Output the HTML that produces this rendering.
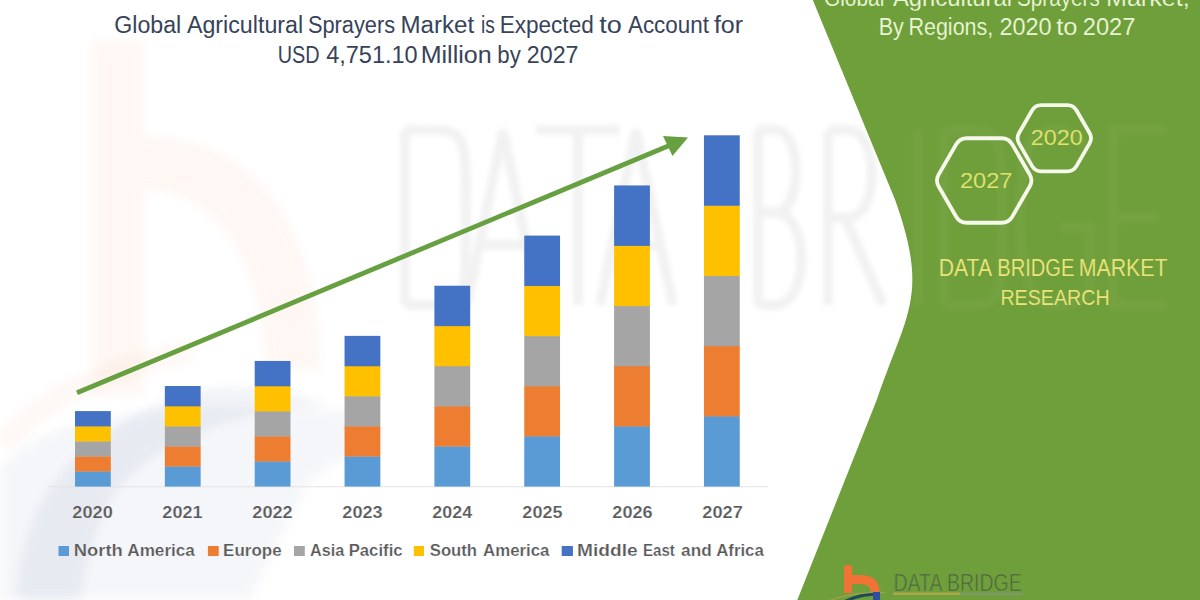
<!DOCTYPE html>
<html><head><meta charset="utf-8">
<style>
html,body{margin:0;padding:0;background:#fff;}
body{width:1200px;height:600px;overflow:hidden;}
svg{display:block;font-family:"Liberation Sans",sans-serif;}
</style></head>
<body>
<svg width="1200" height="600" viewBox="0 0 1200 600">
<defs>
<filter id="bl" x="-10%" y="-10%" width="120%" height="120%"><feGaussianBlur stdDeviation="2.5"/></filter>
<filter id="bl2" x="-20%" y="-20%" width="140%" height="140%"><feGaussianBlur stdDeviation="5"/></filter>
<clipPath id="gc"><path d="M812.8 0 L895.2 200 C929.2 296.3 907.2 311.1 876.7 400 L797.3 600 L1200 600 L1200 0 Z"/></clipPath>
</defs>
<rect width="1200" height="600" fill="#ffffff"/>
<g opacity="0.05" filter="url(#bl2)">
<path d="M93 41 H144 V136 C250 136 320 220 320 370 H265 C265 265 220 190 144 190 V395 H93 Z" fill="#f07335"/>
</g>
<path d="M0 600 L0 470 C40 420 120 400 330 410 C420 415 330 470 310 480 L250 600 Z" fill="#5a6a9a" opacity="0.05" filter="url(#bl2)"/>
<path d="M17 600 C20 520 50 450 175 396 C230 380 280 390 330 405 C240 410 150 440 110 500 C95 530 85 570 80 600 Z" fill="#506aa0" opacity="0.08" filter="url(#bl2)"/>
<path d="M4 445 C30 410 90 370 190 352" fill="none" stroke="#f08050" stroke-width="22" opacity="0.05" filter="url(#bl2)"/>
<path d="M405 130 V305 M405 130 H425 C466 130 466 130 466 217.5 C466 305 466 305 425 305 H405 M467 305 L503 130 L539 305 M480 245 H526 M536 130 H620 M578 130 V305 M600 305 L636 130 L673 305 M613 245 H660 M758 130 V305 M758 130 H775 C803 130 803 212.5 775 212.5 H758 M775 212.5 C810 212.5 810 305 775 305 H758 M828 130 V305 M828 130 H848 C880 130 880 217.5 848 217.5 H828 M845 217.5 L883 305 M918 130 V305 M944 130 V305 M944 130 H962 C1002 130 1002 130 1002 217.5 C1002 305 1002 305 962 305 H944 M1088 150 C1075 130 1060 130 1052 130 C1025 130 1020 170 1020 217.5 C1020 275 1030 305 1055 305 C1075 305 1090 295 1090 290 V227.5 H1060 M1166 130 H1113 V305 H1166 M1113 217.5 H1158" fill="none" stroke="#000" stroke-width="10" opacity="0.05" filter="url(#bl)"/>
<path d="M812.8 0 L895.2 200 C929.2 296.3 907.2 311.1 876.7 400 L797.3 600 L1200 600 L1200 0 Z" fill="#6f9f3a"/>
<g clip-path="url(#gc)"><path d="M405 130 V305 M405 130 H425 C466 130 466 130 466 217.5 C466 305 466 305 425 305 H405 M467 305 L503 130 L539 305 M480 245 H526 M536 130 H620 M578 130 V305 M600 305 L636 130 L673 305 M613 245 H660 M758 130 V305 M758 130 H775 C803 130 803 212.5 775 212.5 H758 M775 212.5 C810 212.5 810 305 775 305 H758 M828 130 V305 M828 130 H848 C880 130 880 217.5 848 217.5 H828 M845 217.5 L883 305 M918 130 V305 M944 130 V305 M944 130 H962 C1002 130 1002 130 1002 217.5 C1002 305 1002 305 962 305 H944 M1088 150 C1075 130 1060 130 1052 130 C1025 130 1020 170 1020 217.5 C1020 275 1030 305 1055 305 C1075 305 1090 295 1090 290 V227.5 H1060 M1166 130 H1113 V305 H1166 M1113 217.5 H1158" fill="none" stroke="#fff" stroke-width="9" opacity="0.04" filter="url(#bl)"/></g>
<g fill="#37435a"><text x="114.34" y="32.5" font-size="23" textLength="66.91" lengthAdjust="spacingAndGlyphs">Global</text><text x="186.95" y="32.5" font-size="23" textLength="116.20" lengthAdjust="spacingAndGlyphs">Agricultural</text><text x="307.91" y="32.5" font-size="23" textLength="87.18" lengthAdjust="spacingAndGlyphs">Sprayers</text><text x="400.52" y="32.5" font-size="23" textLength="73.65" lengthAdjust="spacingAndGlyphs">Market</text><text x="481.01" y="32.5" font-size="23" textLength="13.88" lengthAdjust="spacingAndGlyphs">is</text><text x="499.65" y="32.5" font-size="23" textLength="94.11" lengthAdjust="spacingAndGlyphs">Expected</text><text x="599.29" y="32.5" font-size="23" textLength="22.54" lengthAdjust="spacingAndGlyphs">to</text><text x="627.96" y="32.5" font-size="23" textLength="80.96" lengthAdjust="spacingAndGlyphs">Account</text><text x="713.90" y="32.5" font-size="23" textLength="29.22" lengthAdjust="spacingAndGlyphs">for</text><text x="277.77" y="62.5" font-size="23" textLength="41.88" lengthAdjust="spacingAndGlyphs">USD</text><text x="326.16" y="62.5" font-size="23" textLength="91.46" lengthAdjust="spacingAndGlyphs">4,751.10</text><text x="420.65" y="62.5" font-size="23" textLength="70.98" lengthAdjust="spacingAndGlyphs">Million</text><text x="497.27" y="62.5" font-size="23" textLength="23.48" lengthAdjust="spacingAndGlyphs">by</text><text x="526.83" y="62.5" font-size="23" textLength="51.63" lengthAdjust="spacingAndGlyphs">2027</text></g>
<line x1="48" y1="486.75" x2="768" y2="486.75" stroke="#e3e3e3" stroke-width="1"/>
<g><rect x="75.00" y="471.26" width="35.8" height="15.34" fill="#5b9bd5"/><rect x="75.00" y="456.21" width="35.8" height="15.34" fill="#ed7d31"/><rect x="75.00" y="441.17" width="35.8" height="15.34" fill="#a5a5a5"/><rect x="75.00" y="426.13" width="35.8" height="15.34" fill="#ffc000"/><rect x="75.00" y="411.09" width="35.8" height="15.34" fill="#4472c4"/><rect x="164.85" y="466.24" width="35.8" height="20.36" fill="#5b9bd5"/><rect x="164.85" y="446.19" width="35.8" height="20.36" fill="#ed7d31"/><rect x="164.85" y="426.13" width="35.8" height="20.36" fill="#a5a5a5"/><rect x="164.85" y="406.07" width="35.8" height="20.36" fill="#ffc000"/><rect x="164.85" y="386.01" width="35.8" height="20.36" fill="#4472c4"/><rect x="254.70" y="461.23" width="35.8" height="25.37" fill="#5b9bd5"/><rect x="254.70" y="436.16" width="35.8" height="25.37" fill="#ed7d31"/><rect x="254.70" y="411.09" width="35.8" height="25.37" fill="#a5a5a5"/><rect x="254.70" y="386.01" width="35.8" height="25.37" fill="#ffc000"/><rect x="254.70" y="360.94" width="35.8" height="25.37" fill="#4472c4"/><rect x="344.55" y="456.21" width="35.8" height="30.39" fill="#5b9bd5"/><rect x="344.55" y="426.13" width="35.8" height="30.39" fill="#ed7d31"/><rect x="344.55" y="396.04" width="35.8" height="30.39" fill="#a5a5a5"/><rect x="344.55" y="365.96" width="35.8" height="30.39" fill="#ffc000"/><rect x="344.55" y="335.87" width="35.8" height="30.39" fill="#4472c4"/><rect x="434.40" y="446.19" width="35.8" height="40.41" fill="#5b9bd5"/><rect x="434.40" y="406.07" width="35.8" height="40.41" fill="#ed7d31"/><rect x="434.40" y="365.96" width="35.8" height="40.41" fill="#a5a5a5"/><rect x="434.40" y="325.84" width="35.8" height="40.41" fill="#ffc000"/><rect x="434.40" y="285.73" width="35.8" height="40.41" fill="#4472c4"/><rect x="524.25" y="436.16" width="35.8" height="50.44" fill="#5b9bd5"/><rect x="524.25" y="386.01" width="35.8" height="50.44" fill="#ed7d31"/><rect x="524.25" y="335.87" width="35.8" height="50.44" fill="#a5a5a5"/><rect x="524.25" y="285.73" width="35.8" height="50.44" fill="#ffc000"/><rect x="524.25" y="235.59" width="35.8" height="50.44" fill="#4472c4"/><rect x="614.10" y="426.13" width="35.8" height="60.47" fill="#5b9bd5"/><rect x="614.10" y="365.96" width="35.8" height="60.47" fill="#ed7d31"/><rect x="614.10" y="305.79" width="35.8" height="60.47" fill="#a5a5a5"/><rect x="614.10" y="245.61" width="35.8" height="60.47" fill="#ffc000"/><rect x="614.10" y="185.44" width="35.8" height="60.47" fill="#4472c4"/><rect x="703.95" y="416.10" width="35.8" height="70.50" fill="#5b9bd5"/><rect x="703.95" y="345.90" width="35.8" height="70.50" fill="#ed7d31"/><rect x="703.95" y="275.70" width="35.8" height="70.50" fill="#a5a5a5"/><rect x="703.95" y="205.50" width="35.8" height="70.50" fill="#ffc000"/><rect x="703.95" y="135.30" width="35.8" height="70.50" fill="#4472c4"/></g>
<line x1="77" y1="392.8" x2="670" y2="145.2" stroke="#66a040" stroke-width="4.8"/>
<polygon points="688,137.5 663,136 672.5,156" fill="#66a040"/>
<g fill="#595959" stroke="#f7f8fa" stroke-width="0.22"><text x="72.37" y="518.4" font-size="16.8" font-weight="bold" textLength="40.37" lengthAdjust="spacingAndGlyphs">2020</text><text x="162.37" y="518.4" font-size="16.8" font-weight="bold" textLength="40.13" lengthAdjust="spacingAndGlyphs">2021</text><text x="252.37" y="518.4" font-size="16.8" font-weight="bold" textLength="40.36" lengthAdjust="spacingAndGlyphs">2022</text><text x="342.37" y="518.4" font-size="16.8" font-weight="bold" textLength="40.28" lengthAdjust="spacingAndGlyphs">2023</text><text x="432.38" y="518.4" font-size="16.8" font-weight="bold" textLength="39.71" lengthAdjust="spacingAndGlyphs">2024</text><text x="522.37" y="518.4" font-size="16.8" font-weight="bold" textLength="40.13" lengthAdjust="spacingAndGlyphs">2025</text><text x="612.37" y="518.4" font-size="16.8" font-weight="bold" textLength="40.28" lengthAdjust="spacingAndGlyphs">2026</text><text x="702.37" y="518.4" font-size="16.8" font-weight="bold" textLength="40.43" lengthAdjust="spacingAndGlyphs">2027</text></g>
<rect x="58.5" y="546" width="10.5" height="10" fill="#5b9bd5"/>
<rect x="207.9" y="546" width="10.8" height="10" fill="#ed7d31"/>
<rect x="294" y="546" width="10.8" height="10" fill="#a5a5a5"/>
<rect x="413.8" y="546" width="10.2" height="10" fill="#ffc000"/>
<rect x="561.7" y="546" width="11.2" height="10" fill="#4472c4"/>
<g fill="#595959" stroke="#f7f8fa" stroke-width="0.22"><text x="73.77" y="556" font-size="17" font-weight="bold" textLength="49.07" lengthAdjust="spacingAndGlyphs">North</text><text x="127.27" y="556" font-size="17" font-weight="bold" textLength="67.62" lengthAdjust="spacingAndGlyphs">America</text><text x="223.11" y="556" font-size="17" font-weight="bold" textLength="58.47" lengthAdjust="spacingAndGlyphs">Europe</text><text x="310.00" y="556" font-size="17" font-weight="bold" textLength="34.20" lengthAdjust="spacingAndGlyphs">Asia</text><text x="348.68" y="556" font-size="17" font-weight="bold" textLength="53.91" lengthAdjust="spacingAndGlyphs">Pacific</text><text x="429.77" y="556" font-size="17" font-weight="bold" textLength="47.27" lengthAdjust="spacingAndGlyphs">South</text><text x="483.08" y="556" font-size="17" font-weight="bold" textLength="66.31" lengthAdjust="spacingAndGlyphs">America</text><text x="577.12" y="556" font-size="17" font-weight="bold" textLength="60.53" lengthAdjust="spacingAndGlyphs">Middle</text><text x="642.99" y="556" font-size="17" font-weight="bold" textLength="31.79" lengthAdjust="spacingAndGlyphs">East</text><text x="681.10" y="556" font-size="17" font-weight="bold" textLength="30.54" lengthAdjust="spacingAndGlyphs">and</text><text x="716.18" y="556" font-size="17" font-weight="bold" textLength="47.61" lengthAdjust="spacingAndGlyphs">Africa</text></g>
<g fill="#ebf6d6" stroke="#6f9f3a" stroke-width="0.12"><text x="823.95" y="5.8" font-size="23" textLength="60.45" lengthAdjust="spacingAndGlyphs">Global</text><text x="892.95" y="5.8" font-size="23" textLength="119.14" lengthAdjust="spacingAndGlyphs">Agricultural</text><text x="1017.06" y="5.8" font-size="23" textLength="82.68" lengthAdjust="spacingAndGlyphs">Sprayers</text><text x="1105.94" y="5.8" font-size="23" textLength="83.82" lengthAdjust="spacingAndGlyphs">Market,</text><text x="878.74" y="34.8" font-size="23.5" textLength="25.11" lengthAdjust="spacingAndGlyphs">By</text><text x="908.49" y="34.8" font-size="23.5" textLength="84.74" lengthAdjust="spacingAndGlyphs">Regions,</text><text x="999.42" y="34.8" font-size="23.5" textLength="52.25" lengthAdjust="spacingAndGlyphs">2020</text><text x="1056.21" y="34.8" font-size="23.5" textLength="21.26" lengthAdjust="spacingAndGlyphs">to</text><text x="1082.81" y="34.8" font-size="23.5" textLength="52.58" lengthAdjust="spacingAndGlyphs">2027</text></g>
<g fill="none" stroke="#f5f8ea" stroke-width="3.8"><path d="M1019.05 143.40 Q1016.05 138.20 1019.05 133.00 L1032.17 110.30 Q1035.17 105.10 1041.17 105.10 L1067.42 105.10 Q1073.42 105.10 1076.43 110.30 L1089.55 133.00 Q1092.55 138.20 1089.55 143.40 L1076.43 166.10 Q1073.42 171.30 1067.42 171.30 L1041.17 171.30 Q1035.17 171.30 1032.17 166.10 Z"/><path d="M938.71 186.56 Q935.20 180.50 938.71 174.44 L956.19 144.31 Q959.70 138.25 966.70 138.25 L1001.70 138.25 Q1008.70 138.25 1012.21 144.31 L1029.69 174.44 Q1033.20 180.50 1029.69 186.56 L1012.21 216.69 Q1008.70 222.75 1001.70 222.75 L966.70 222.75 Q959.70 222.75 956.19 216.69 Z"/></g>
<g fill="#e2e46e" stroke="#6f9f3a" stroke-width="0.12"><text x="1030.83" y="144.5" font-size="21.8" textLength="51.88" lengthAdjust="spacingAndGlyphs">2020</text><text x="959.91" y="188" font-size="22.2" textLength="52.52" lengthAdjust="spacingAndGlyphs">2027</text></g>
<g fill="#ece47a" stroke="#6f9f3a" stroke-width="0.12"><text x="938.86" y="275.5" font-size="23" textLength="53.17" lengthAdjust="spacingAndGlyphs">DATA</text><text x="997.35" y="275.5" font-size="23" textLength="77.01" lengthAdjust="spacingAndGlyphs">BRIDGE</text><text x="1078.75" y="275.5" font-size="23" textLength="88.74" lengthAdjust="spacingAndGlyphs">MARKET</text><text x="1000.39" y="305.2" font-size="21.8" textLength="109.22" lengthAdjust="spacingAndGlyphs">RESEARCH</text></g>
<g>
<path d="M844 593 V567 Q844 565 846 565 H850 Q852 565 852 567 V575 H860 Q879.5 575 879.5 592.5 H871 Q871 584 860 584 H852 V593 Z" fill="#f07335"/>
<path d="M828 601 Q850 592 885 592.5" fill="none" stroke="#b0a050" stroke-width="1.5" opacity="0.7"/>
<path d="M844 602 Q858 594.5 878 594" fill="none" stroke="#1d4a5a" stroke-width="3"/>
<rect x="873" y="592" width="7" height="8" fill="#2d4f9e"/>
<text x="893.4" y="590.7" font-size="24" fill="#4d5f45" stroke="#6f9f3a" stroke-width="0.7" textLength="128.4" lengthAdjust="spacingAndGlyphs">DATA BRIDGE</text>
<rect x="893" y="592.5" width="67" height="2.5" fill="#a9a84a"/>
<rect x="960" y="592.5" width="63" height="2.5" fill="#7d9868"/>
</g>
</svg>
</body></html>
